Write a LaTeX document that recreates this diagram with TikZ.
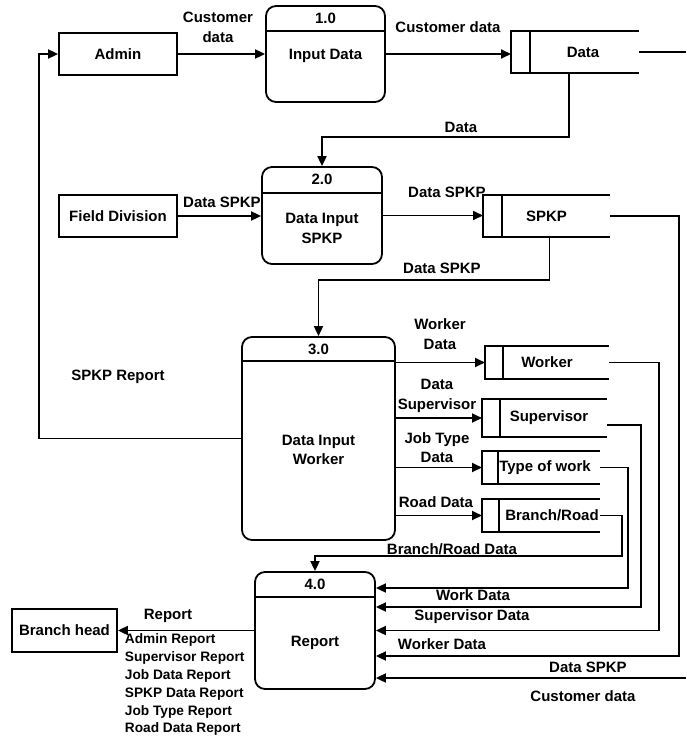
\documentclass[tikz,border=0pt]{standalone}
\usepackage{fontspec}
\setmainfont{Liberation Sans}
\usetikzlibrary{arrows.meta,calc}
\begin{document}
\begin{tikzpicture}[x=1pt,y=-1pt,
  font=\bfseries\fontsize{15}{19.5}\selectfont,
  line width=1.8pt,
  every node/.style={inner sep=0pt},
  ext/.style={draw, minimum width=118pt, minimum height=42pt},
  proc/.style={draw, rounded corners=10pt},
  store/.style={outer sep=0pt},
  flow/.style={-{Triangle[length=10pt,width=9pt]}},
  txt/.style={align=center},
  small/.style={font=\bfseries\fontsize{13.7}{17.8}\selectfont}
]
\useasboundingbox (0,0) rectangle (686,736);

% external entities
\node[ext] (admin) at (118,54) {Admin};
\node[ext] (field) at (118,216) {Field Division};
\node[ext, minimum width=105pt, minimum height=43pt] (head) at (64.5,630.5) {Branch head};

% processes
\node[proc, minimum width=119pt, minimum height=96pt] (p1) at (325.5,54) {};
\node[proc, minimum width=120pt, minimum height=97pt] (p2) at (322,215.5) {};
\node[proc, minimum width=153pt, minimum height=203pt] (p3) at (318.5,438.5) {};
\node[proc, minimum width=120pt, minimum height=117pt] (p4) at (315,630.5) {};

\draw ([yshift=-26pt]p1.north west) -- ([yshift=-26pt]p1.north east);
\draw ([yshift=-27pt]p2.north west) -- ([yshift=-27pt]p2.north east);
\draw ([yshift=-25pt]p3.north west) -- ([yshift=-25pt]p3.north east);
\draw ([yshift=-26pt]p4.north west) -- ([yshift=-26pt]p4.north east);

\node (p1n) at ([yshift=-13pt]p1.north) {1.0};
\node (p2n) at ([yshift=-13pt]p2.north) {2.0};
\node (p3n) at ([yshift=-13pt]p3.north) {3.0};
\node (p4n) at ([yshift=-13pt]p4.north) {4.0};

\node[txt] (p1t) at (325.5,56) {Input Data};
\node[txt] (p2t) at (322,228.5) {Data Input\\SPKP};
\node[txt] (p3t) at (318.5,450) {Data Input\\Worker};
\node[txt] (p4t) at (315,643) {Report};

% data stores
\node[store, minimum width=128pt, minimum height=42pt, label={[xshift=8pt]center:Data}] (dst) at (575,52) {};
\node[store, minimum width=127pt, minimum height=42pt, label={center:SPKP}] (spk) at (546.5,216) {};
\node[store, minimum width=124pt, minimum height=33pt, label={center:Worker}] (wrk) at (547,362.5) {};
\node[store, minimum width=125pt, minimum height=38pt, label={[xshift=4.5pt]center:Supervisor}] (sup) at (544.5,418) {};
\node[store, minimum width=118pt, minimum height=33pt, label={[xshift=4pt]center:Type of work}] (typ) at (541,467.5) {};
\node[store, minimum width=118pt, minimum height=33pt, label={[xshift=11pt]center:Branch/Road}] (brn) at (541,515.5) {};

\foreach \s/\c in {dst/19, spk/19, wrk/18, sup/18, typ/16, brn/17} {
  \draw (\s.north east) -- (\s.north west) -- (\s.south west) -- (\s.south east);
  \draw ([xshift=\c pt]\s.north west) -- ([xshift=\c pt]\s.south west);
}

% free ends at the right border
\coordinate (cout) at (686,52);
\coordinate (cin) at (686,678);

% flows
\draw[flow] (admin) -- (p1);
\draw[flow] (p1.east) -- (p1.east -| dst.west);
\draw (dst.east) -- (cout);
\draw[flow] ([xshift=-6pt]dst.south) -- ++(0,64) -| (p2.north);
\draw[flow] (field.east) -- (field.east -| p2.west);
\draw[flow] (p2.east) -- (p2.east -| spk.west);
\draw[flow] ([xshift=3pt]spk.south) -- ++(0,43) -| (p3.north);
\draw[flow] (spk.east) -- ++(69,0) |- ([yshift=-25.5pt]p4.east);
\draw[flow] (p3.east |- wrk.west) -- (wrk.west);
\draw[flow] (p3.east |- sup.west) -- (sup.west);
\draw[flow] (p3.east |- typ.west) -- (typ.west);
\draw[flow] (p3.east |- brn.west) -- (brn.west);
\draw[flow] (wrk.east) -- ++(50,0) |- (p4.east);
\draw[flow] ([yshift=-7pt]sup.east) -- ++(34,0) |- ([yshift=23.5pt]p4.east);
\draw[flow] (typ.east) -- ++(28,0) |- ([yshift=42.5pt]p4.east);
\draw[flow] (brn.east) -- ++(22,0) -- ++(0,40.5) -| (p4.north);
\draw[flow] (cin) -- (cin -| p4.east);
\draw[flow] (p3.west) -- ++(-202,0) |- (admin.west);
\draw[flow] (p4.west) -- (head.east);

% flow labels
\node[txt] (l1) at (218,27.5) {Customer\\data};
\node (l2) at (448,27) {Customer data};
\node (l3) at (461,127) {Data};
\node (l4) at (222,202) {Data SPKP};
\node (l5) at (447,192) {Data SPKP};
\node (l6) at (442,268) {Data SPKP};
\node[txt] (l7) at (440,334) {Worker\\Data};
\node[txt] (l8) at (437,396) {Data\\Supervisor};
\node[txt] (l9) at (437,447.5) {Job Type\\Data};
\node (l10) at (436,502) {Road Data};
\node (l11) at (452,549) {Branch/Road Data};
\node (l12) at (473,595) {Work Data};
\node (l13) at (472,617) {Supervisor Data};
\node (l14) at (442,644) {Worker Data};
\node (l15) at (588,667) {Data SPKP};
\node (l16) at (583,696) {Customer data};
\node (l17) at (118,377) {SPKP Report};
\node (l18) at (168,616) {Report};
\node[small, align=left, anchor=north west] (l19) at (124,633)
  {Admin Report\\Supervisor Report\\Job Data Report\\SPKP Data Report\\Job Type Report\\Road Data Report};
\end{tikzpicture}
\end{document}
